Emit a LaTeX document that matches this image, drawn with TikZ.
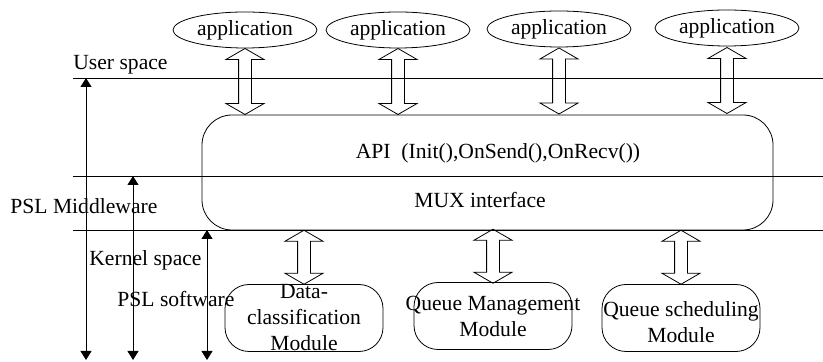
\documentclass[tikz,border=0pt]{standalone}
\usepackage{fontspec}
\setmainfont{Liberation Serif}
\usetikzlibrary{arrows.meta,shapes.geometric,shapes.arrows,positioning}

\begin{document}
\begin{tikzpicture}[x=0.5pt, y=-0.5pt, font=\fontsize{10.8}{13}\selectfont,
  app/.style={ellipse, draw, minimum width=72pt, minimum height=18pt, inner sep=0pt},
  dblarrow/.style={double arrow, draw, rotate=90, inner xsep=0pt, inner ysep=3pt,
    double arrow head extend=6.25pt, double arrow tip angle=120, minimum height=#1},
  module/.style={draw, rounded corners=12pt, minimum width=79pt, minimum height=33.5pt},
  span/.style={{Triangle[length=4.5pt,width=5.5pt]}-{Triangle[length=4.5pt,width=5.5pt]}}]
\path[use as bounding box] (0,0) rectangle (823,362);
\node[app] (app1) at (245,30) {application};
\node[app] (app2) at (398,30) {application};
\node[app] (app3) at (559,29) {application};
\node[app] (app4) at (727,28) {application};
\node[draw, rounded corners=15pt, minimum width=285.5pt, minimum height=57.5pt] (mw) at (487.5,172.5) {};
\node (api) at (498,153) {API\ \ (Init(),OnSend(),OnRecv())};
\node (mux) at (480,200) {MUX interface};
\coordinate (us-l) at (73,78);
\coordinate (us-r) at (823,78);
\coordinate (mw-l) at (73,176);
\coordinate (mw-r) at (823,176);
\coordinate (ks-l) at (73,230);
\coordinate (ks-r) at (823,230);
\draw (us-l) -- (us-r);
\draw (mw-l) -- (mw-r);
\draw (ks-l) -- (ks-r);
\node[anchor=west, inner sep=0pt] (user) at (73,65) {User space};
\node[anchor=west, inner sep=0pt] (pslmw) at (10,206) {PSL Middleware};
\node[anchor=west, inner sep=0pt] (kernel) at (89,260) {Kernel space};
\node[anchor=west, inner sep=0pt] (pslsw) at (117,299) {PSL software};
\coordinate (us-t) at (86,78);
\coordinate (us-b) at (86,360);
\coordinate (mw-t) at (133,176);
\coordinate (mw-b) at (133,360);
\coordinate (ks-t) at (207,230);
\coordinate (ks-b) at (207,360);
\draw[span] (us-t) -- (us-b);
\draw[span] (mw-t) -- (mw-b);
\draw[span] (ks-t) -- (ks-b);
\node[module] (dcm) at (304,318) {};
\node[align=center] (dcm-t) at (dcm) {Data-\\classification\\Module};
\node[module] (qmm) at (493,316) {};
\node[align=center] (qmm-t) at (qmm) {Queue Management\\Module};
\node[module] (qsm) at (681,318) {};
\node[align=center] (qsm-t) at ([yshift=-2pt]qsm.center) {Queue scheduling\\Module};
\foreach \a in {app1,app2,app3,app4}
  \path (\a.south) -- (\a.south |- mw.north) node[midway, dblarrow=33pt] {};
\foreach \m in {dcm,qmm,qsm}
  \path (\m.north |- mw.south) -- (\m.north) node[midway, dblarrow=27pt] {};
\end{tikzpicture}
\end{document}
